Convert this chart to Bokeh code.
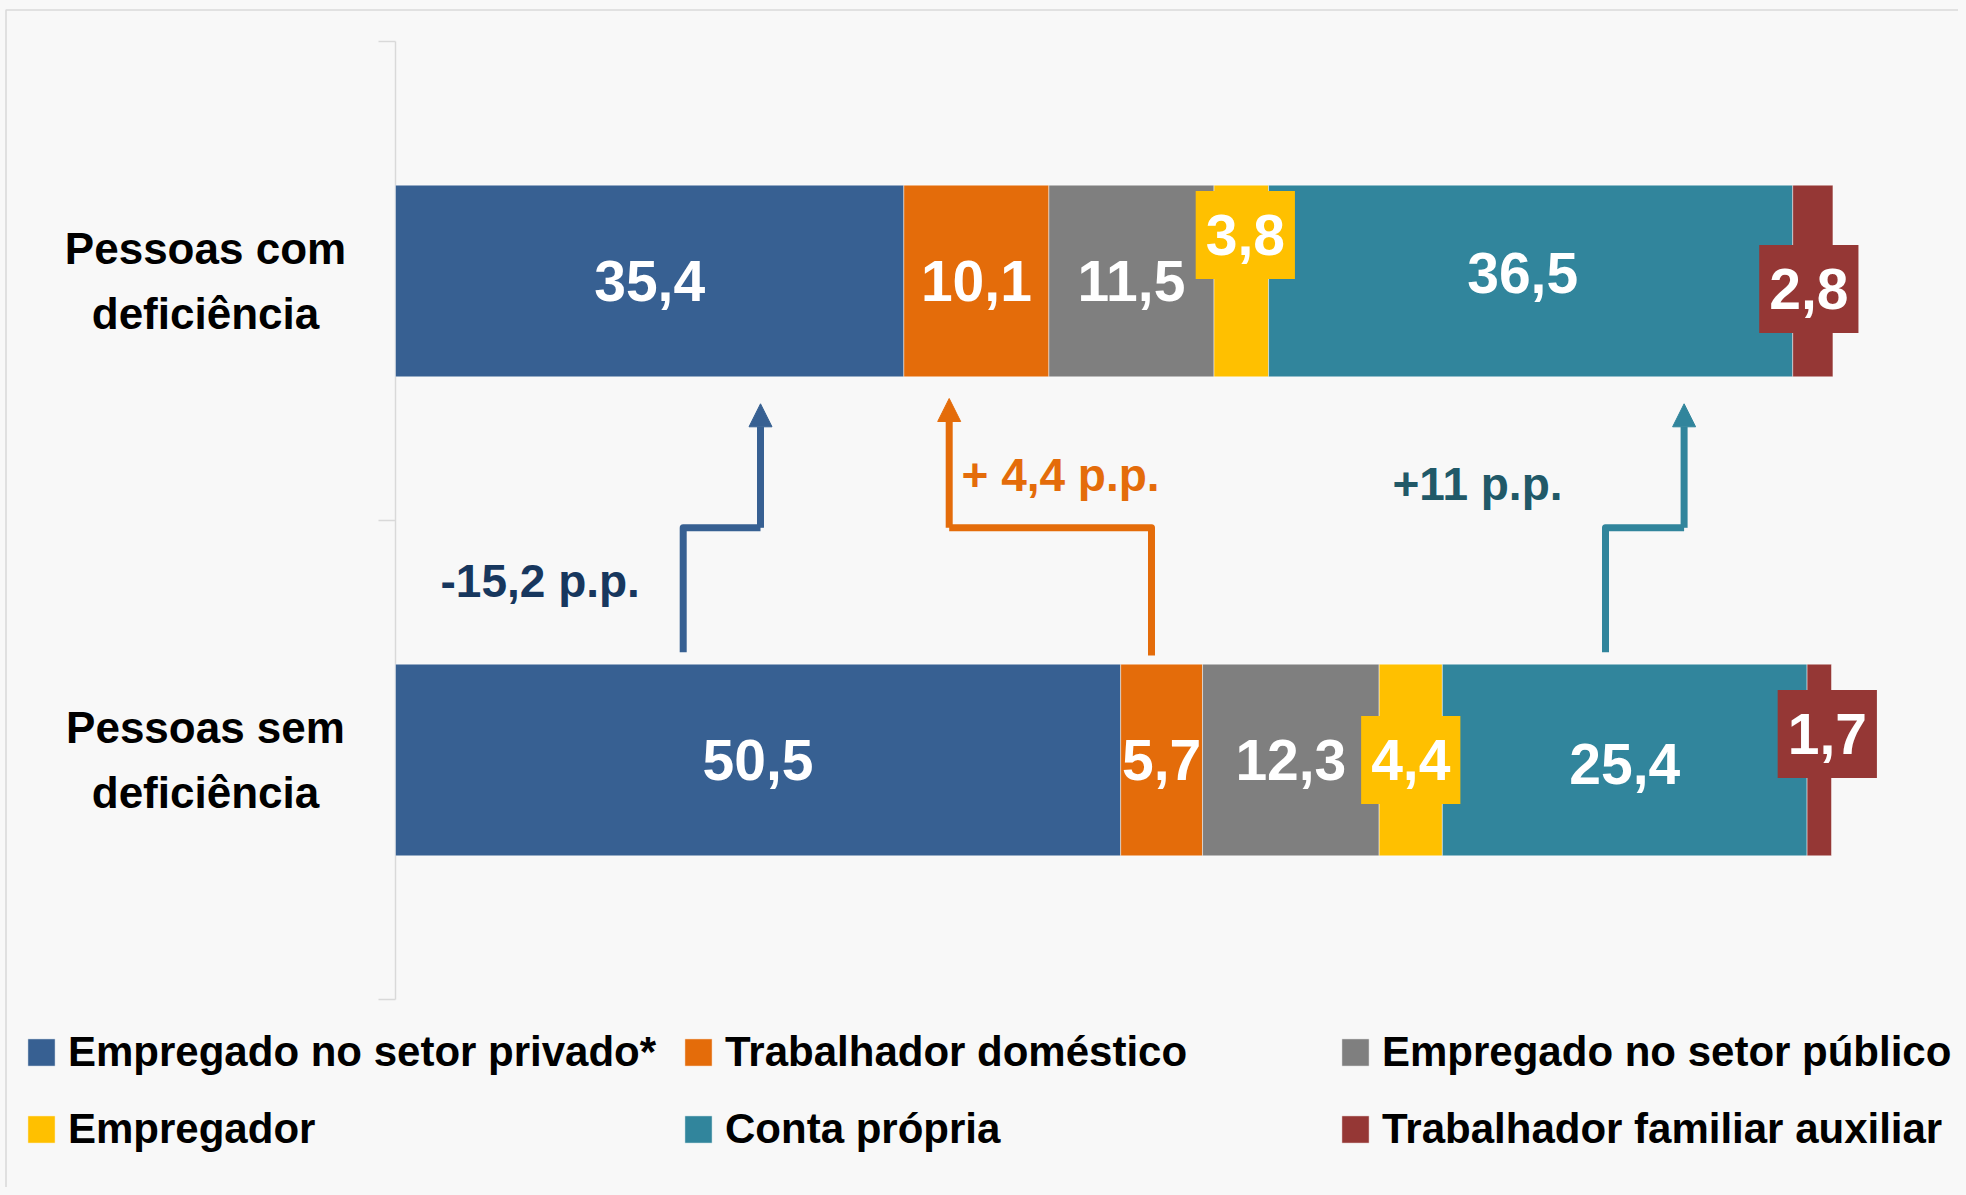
from bokeh.plotting import figure
from bokeh.models import (ColumnDataSource, Range1d, Legend, LegendItem, Arrow, NormalHead)
from bokeh.core.properties import value
from bokeh.embed import file_html
from bokeh.resources import INLINE

# ---------------- data ----------------
groups = ["Pessoas sem\ndeficiência", "Pessoas com\ndeficiência"]
series = ["Empregado no setor privado*", "Trabalhador doméstico",
          "Empregado no setor público", "Empregador", "Conta própria",
          "Trabalhador familiar auxiliar"]
com_deficiencia = [35.4, 10.1, 11.5, 3.8, 36.5, 2.8]
sem_deficiencia = [50.5, 5.7, 12.3, 4.4, 25.4, 1.7]
change_labels = ["-15,2 p.p.", "+ 4,4 p.p.", "+11 p.p."]

# ---------------- styles / layout ----------------
colors = ["#376092", "#E46C0A", "#7F7F7F", "#FFC000", "#31859C", "#953735"]
change_colors = ["#376092", "#E46C0A", "#31859C"]
change_text_colors = ["#17375E", "#E46C0A", "#215968"]
FONT = "Liberation Sans"
BG = "#f8f8f8"
AXIS_COLOR = "#d9d9d9"

W, H = 1958, 1187
X0_PX, PX_PER_UNIT = 395, 14.36      # where 0 % sits, pixels per percentage point
Y0_PX, PX_PER_CAT = 999, 479         # bottom of the category axis, pixels per category


def xd(px):
    return (px - X0_PX) / PX_PER_UNIT


def yd(py):
    return (Y0_PX - py) / PX_PER_CAT


# label offsets in screen px (dx, dy-down), keyed by (group index, series index)
label_offsets = {(1, 3): (4, -46), (1, 5): (-4, 8), (1, 4): (-8, -8),
                 (0, 5): (8, -26), (0, 4): (0, 4)}

# hand-drawn change arrows (annotation layout, in pixels)
arrow_paths_px = [
    ([682.7, 682.7, 760.0], [651.7, 527.3, 527.3], (760.0, 403.3)),
    ([1151.0, 1151.0, 948.7], [655.0, 527.3, 527.3], (948.7, 398.0)),
    ([1605.0, 1605.0, 1683.6], [651.7, 527.3, 527.3], (1683.6, 403.3)),
]
change_text_px = [(440, 580), (961, 474), (1392, 483)]
group_label_x_px = 205

p = figure(width=W, height=H, x_range=Range1d(xd(0), xd(W)), y_range=Range1d(yd(H), yd(0)),
           output_backend="svg", toolbar_location=None, x_axis_location=None,
           y_axis_location=None, min_border=0)
p.background_fill_color = BG
p.border_fill_color = BG
p.outline_line_color = None
p.grid.visible = False

# outer chart border
p.quad(left=[xd(5.5)], right=[xd(W + 50)], top=[yd(9.5)], bottom=[yd(H + 50)],
       fill_color=None, line_color=AXIS_COLOR, line_width=1.5)

# category axis: line with ticks at category boundaries
n = len(groups)
bounds = list(range(n + 1))
p.segment(x0=[0], y0=[0], x1=[0], y1=[n], line_color=AXIS_COLOR, line_width=1.5)
p.segment(x0=[xd(X0_PX - 17)] * len(bounds), y0=bounds, x1=[0] * len(bounds), y1=bounds,
          line_color=AXIS_COLOR, line_width=1.5)

# ---------------- bars ----------------
ys = [i + 0.5 for i in range(n)]
src = ColumnDataSource(dict(y=ys, **{s: [sem_deficiencia[i], com_deficiencia[i]]
                                       for i, s in enumerate(series)}))
rends = p.hbar_stack(series, y="y", height=0.4, color=colors, source=src,
                     line_color="white", line_width=1, line_alpha=0.45)

# ---------------- data labels ----------------
plain = dict(x=[], y=[], t=[], dx=[], dy=[])
boxed = dict(x=[], y=[], t=[], dx=[], dy=[], bg=[])
for gi, vals in enumerate([sem_deficiencia, com_deficiencia]):
    left = 0.0
    for si, v in enumerate(vals):
        cx = left + v / 2
        left += v
        dx, dy = label_offsets.get((gi, si), (0, 0))
        txt = f"{v:.1f}".replace(".", ",")
        d = boxed if v < 5 else plain
        d["x"].append(cx); d["y"].append(ys[gi]); d["t"].append(txt)
        d["dx"].append(dx); d["dy"].append(dy)
        if d is boxed:
            d["bg"].append(colors[si])

common = dict(text_align="center", text_baseline="middle", text_color="white",
              text_font=value(FONT), text_font_style="bold", text_font_size="57px",
              x_offset="dx", y_offset="dy")
p.text(x="x", y="y", text="t", source=ColumnDataSource(plain), **common)
p.text(x="x", y="y", text="t", source=ColumnDataSource(boxed),
       background_fill_color="bg", padding=dict(x=10, y=24), **common)

# ---------------- category labels ----------------
p.text(x=[xd(group_label_x_px)] * n, y=ys, text=groups, text_align="center",
       text_baseline="middle", text_font=value(FONT), text_font_style="bold",
       text_font_size="44px", text_color="black", text_line_height=1.32)

# ---------------- change arrows ----------------
for (xs_px, ys_px, tip), c, tc, lab, (tx, ty) in zip(arrow_paths_px, change_colors,
                                                       change_text_colors, change_labels,
                                                       change_text_px):
    xs_ = [xd(v) for v in xs_px]
    ys_ = [yd(v) for v in ys_px]
    p.line(xs_, ys_, line_color=c, line_width=7, line_join="round")
    p.add_layout(Arrow(end=NormalHead(size=23, fill_color=c, line_color=c, line_width=1),
                       x_start=xs_[-1], y_start=ys_[-1], x_end=xd(tip[0]), y_end=yd(tip[1]),
                       line_color=c, line_width=7))
    p.text(x=[xd(tx)], y=[yd(ty)], text=[lab], text_align="left",
           text_baseline="alphabetic", text_font=value(FONT), text_font_style="bold",
           text_font_size="46px", text_color=tc)

# ---------------- legend ----------------
legend = Legend(items=[LegendItem(label=s, renderers=[r]) for s, r in zip(series, rends)],
                location=(24, 31), orientation="horizontal", ncols=3,
                glyph_width=34, glyph_height=34, label_standoff=10, label_width=590,
                label_height=54, spacing=23, padding=0, margin=0,
                border_line_color=None, background_fill_alpha=0,
                label_text_font=FONT, label_text_font_style="bold",
                label_text_font_size="42px", label_text_color="black")
p.add_layout(legend)

html = file_html(p, INLINE)
html = html.replace("</head>", "<style>html, body { background-color: #f8f8f8; }</style></head>", 1)
open("out.html", "w").write(html)
